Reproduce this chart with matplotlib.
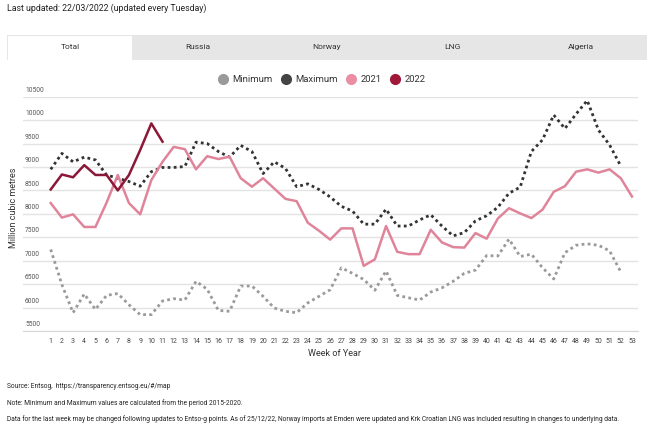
import matplotlib
matplotlib.use("Agg")
import matplotlib.pyplot as plt
from matplotlib.lines import Line2D
from matplotlib.patches import Rectangle

plt.rcParams['font.family'] = ['Roboto', 'DejaVu Sans']

# weekly imports, million cubic metres
weeks = list(range(1, 54))
minimum = [7240, 6490, 5890, 6290, 5960, 6260, 6300, 6060, 5850, 5850,
           6140, 6190, 6160, 6560, 6390, 5940, 5920, 6460, 6460, 6240,
           5990, 5920, 5890, 6100, 6240, 6380, 6850, 6730, 6600, 6370,
           6780, 6260, 6210, 6160, 6330, 6420, 6560, 6730, 6800, 7110,
           7100, 7460, 7090, 7140, 6850, 6610, 7170, 7330, 7360, 7330,
           7210, 6760]
maximum = [8950, 9290, 9110, 9210, 9150, 8830, 8760, 8690, 8590, 8900,
           8990, 8990, 9010, 9530, 9500, 9330, 9210, 9460, 9330, 8860,
           9110, 8970, 8580, 8640, 8520, 8360, 8160, 8060, 7780, 7780,
           8100, 7740, 7740, 7870, 7980, 7740, 7530, 7600, 7850, 7960,
           8140, 8440, 8570, 9330, 9580, 10110, 9820, 10130, 10420, 9790,
           9470, 9020]
y2021 = [8230, 7920, 7990, 7720, 7720, 8240, 8830, 8230, 7990, 8720,
         9110, 9430, 9380, 8950, 9230, 9170, 9220, 8760, 8580, 8760,
         8540, 8320, 8270, 7810, 7640, 7450, 7690, 7690, 6890, 7030,
         7740, 7190, 7140, 7140, 7660, 7390, 7290, 7280, 7590, 7470,
         7900, 8120, 8010, 7910, 8090, 8470, 8590, 8900, 8950, 8880,
         8950, 8760, 8370]
y2022 = [8520, 8840, 8780, 9040, 8830, 8830, 8500, 8830, 9360, 9930, 9540]

y_ticks = [5500, 6000, 6500, 7000, 7500, 8000, 8500, 9000, 9500, 10000, 10500]
tabs = ['Total', 'Russia', 'Norway', 'LNG', 'Algeria']

c_min = '#9a9a9a'
c_max = '#333333'
c_2021 = '#e0849a'
c_2022 = '#8c1838'

fig = plt.figure(figsize=(6.5, 4.25), dpi=100)
W, H = 650, 425

# header
fig.text(7 / W, 1 - 8 / H, 'Last updated: 22/03/2022 (updated every Tuesday)',
         fontsize=6.3, color='#222222', va='center')

# tab bar
fig.patches.append(Rectangle((7 / W, 1 - 60 / H), 640 / W, 25 / H,
                             transform=fig.transFigure, facecolor='#e6e6e6',
                             edgecolor='none'))
fig.patches.append(Rectangle((8 / W, 1 - 60 / H), 124 / W, 24 / H,
                             transform=fig.transFigure, facecolor='white',
                             edgecolor='none'))
tab_x = [70, 198, 327, 452, 581]
for t, x in zip(tabs, tab_x):
    fig.text(x / W, 1 - 47 / H, t, fontsize=6, color='#333333',
             ha='center', va='center')

# plot area
ax = fig.add_axes([23 / W, 1 - 331 / H, 615 / W, (331 - 96.7) / H])
ax.plot(weeks[:len(minimum)], minimum, color=c_min, lw=2, ls=(0, (1, 1.2)))
ax.plot(weeks[:len(maximum)], maximum, color=c_max, lw=2, ls=(0, (1, 1.2)))
ax.plot(weeks[:len(y2021)], y2021, color=c_2021, lw=1.8)
ax.plot(weeks[:len(y2022)], y2022, color=c_2022, lw=1.8)

ax.set_xlim(-1.48, 53.54)
ax.set_ylim(5500, 10500)
ax.set_yticks(y_ticks)
ax.yaxis.grid(True, color='#e3e3e3', lw=1)
ax.tick_params(axis='y', length=0, labelleft=False)
for v in y_ticks:
    ax.text(-1.3, v + 60, str(v), fontsize=4.8, color='#555555',
            va='bottom', ha='left')
ax.set_xticks(weeks)
ax.set_xticklabels([str(w) for w in weeks], fontsize=5, color='#444444')
ax.tick_params(axis='x', length=0, pad=5)
for s in ['top', 'right', 'left']:
    ax.spines[s].set_visible(False)
ax.spines['bottom'].set_color('#d6d6d6')
ax.set_axisbelow(True)

fig.text(335 / W, 1 - 353 / H, 'Week of Year', fontsize=6.5, color='#333333',
         ha='center', va='center')
fig.text(14 / W, 1 - 208 / H, 'Million cubic metres', fontsize=6.5,
         color='#333333', ha='center', va='center', rotation=90)

# legend
handles = [Line2D([], [], marker='o', ls='none', ms=7, color=c)
           for c in [c_min, '#444444', '#ea8ea3', '#a01838']]
fig.legend(handles, ['Minimum', 'Maximum', '2021', '2022'],
           loc='center', bbox_to_anchor=(322 / W, 1 - 80 / H), ncol=4,
           frameon=False, fontsize=6.8, handlelength=1.0, handletextpad=0.5,
           columnspacing=0.9, labelcolor='#333333')

# footer
notes = ['Source: Entsog,  https://transparency.entsog.eu/#/map',
         'Note: Minimum and Maximum values are calculated from the period 2015-2020.',
         'Data for the last week may be changed following updates to Entso-g points. '
         'As of 25/12/22, Norway imports at Emden were updated and Krk Croatian LNG '
         'was included resulting in changes to underlying data.']
for i, n in enumerate(notes):
    fig.text(7 / W, 1 - (387 + 16 * i) / H, n, fontsize=4.75, color='#222222',
             va='center')

fig.savefig('out.png', dpi=100)
